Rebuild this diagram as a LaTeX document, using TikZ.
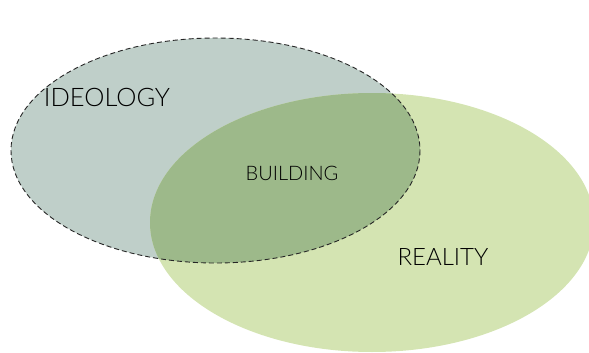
\documentclass[tikz,border=0pt]{standalone}
\usepackage{fontspec}
\setmainfont{Lato}[UprightFont=* Light]
\begin{document}
\begin{tikzpicture}[x=1pt,y=-1pt,
  lbl/.style={inner sep=0pt,text=black}]
\definecolor{ideo}{HTML}{BFCFC9}
\definecolor{real}{HTML}{D4E4B2}
\definecolor{both}{HTML}{9DB98A}
\useasboundingbox (0,0) rectangle (589,353);
\begin{scope}
\clip (0,0) rectangle (589,353);
\fill[ideo] (215.5,150.5) ellipse [x radius=204.5, y radius=112.5];
\fill[real] (372,222.5) ellipse [x radius=222, y radius=129.5];
\begin{scope}
\clip (215.5,150.5) ellipse [x radius=204.5, y radius=112.5];
\fill[both] (372,222.5) ellipse [x radius=222, y radius=129.5];
\end{scope}
\draw[dash pattern=on 5pt off 3pt, line width=0.9pt, black!85] (215.5,150.5) ellipse [x radius=204.5, y radius=112.5];
\end{scope}
\node[lbl, font=\fontsize{25.5}{30}\selectfont] (ideology) at (107,97) {IDEOLOGY};
\node[lbl, font=\fontsize{20}{24}\selectfont] (building) at (292,173) {BUILDING};
\node[lbl, font=\fontsize{24}{28}\selectfont] (reality) at (443,257) {REALITY};
\end{tikzpicture}
\end{document}
